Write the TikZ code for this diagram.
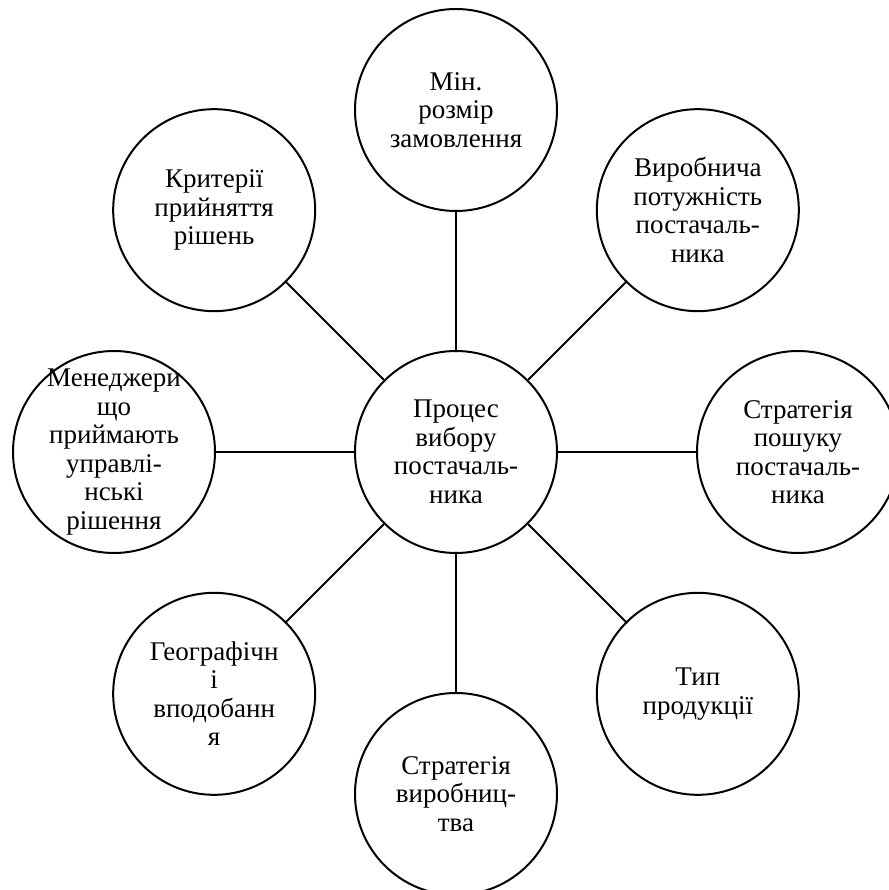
\documentclass[tikz,border=0pt]{standalone}
\usepackage{fontspec}
\setmainfont{Liberation Serif}
\usetikzlibrary{positioning}
\tikzset{
  bubble/.style={draw, circle, line width=2pt, minimum size=202pt, inner sep=0pt},
  bubbletext/.style={align=center, inner sep=0pt, font=\fontsize{27}{28.5}\selectfont},
  spoke/.style={line width=2pt}
}
\begin{document}
\begin{tikzpicture}
  \useasboundingbox (-456pt,-438pt) rectangle (432pt,452pt);
% Centre
  \node[bubble] (proc) at (0,0) {};
  \node[bubbletext] (proc-t) at (proc) {Процес\\вибору\\постачаль-\\ника};
% Factors round the centre
  \foreach \ang/\name/\txt in {
      90/minsize/{Мін.\\розмір\\замовлення},
      45/capacity/{Виробнича\\потужність\\постачаль-\\ника},
      0/search/{Стратегія\\пошуку\\постачаль-\\ника},
      -45/product/{Тип\\продукції},
      -90/prodstrat/{Стратегія\\виробниц-\\тва},
      -135/geo/{Географічн\\і\\вподобанн\\я},
      180/managers/{Менеджери\\що\\приймають\\управлі-\\нські\\рішення},
      135/criteria/{Критерії\\прийняття\\рішень}}
  {
    \node[bubble] (\name) at (\ang:342pt) {};
    \node[bubbletext] (\name-t) at (\name) {\txt};
    \draw[spoke] (proc) -- (\name);
  }
\end{tikzpicture}
\end{document}
